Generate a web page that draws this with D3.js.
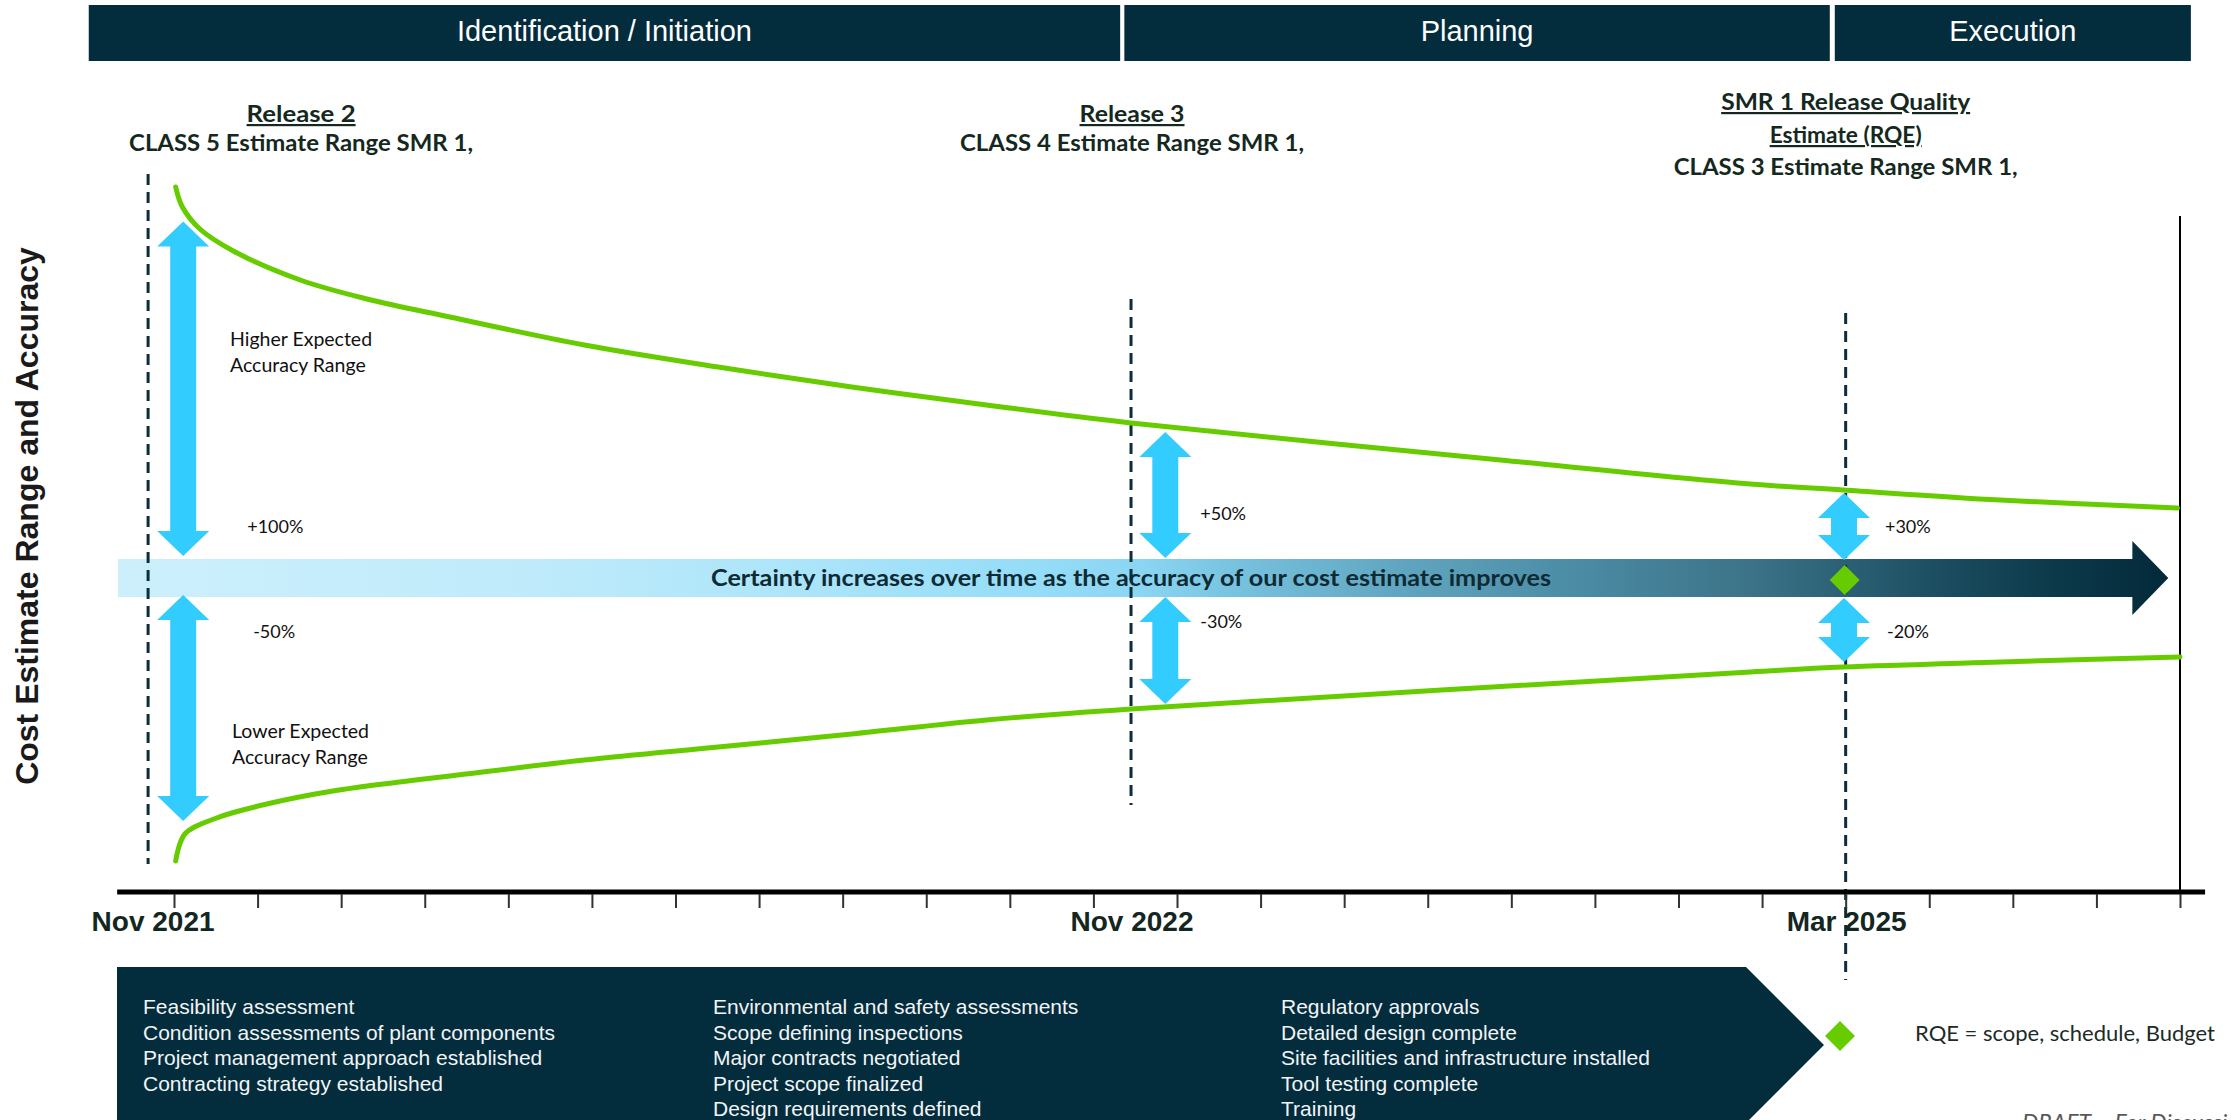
<!DOCTYPE html>
<html>
<head>
<meta charset="utf-8">
<script src="https://cdn.jsdelivr.net/npm/d3@7"></script>
<style>
  body { margin: 0; background: #fff; }
  svg { display: block; }
</style>
</head>
<body>
<svg id="chart"></svg>
<script>
// timeline is in month steps (tick index 0 = Nov 2021 ... 24 = end of axis)
const phaseNames = ['Identification / Initiation', 'Planning', 'Execution'];
const phaseStart = [-1.02, 11.37, 19.87];
const phaseEnd = [11.32, 19.81, 24.13];

const monthTicks = d3.range(0, 25);

const milestoneAt = [-0.31, 11.45, 20];
const milestoneTop = [101, 69.75, 66.25];
const milestoneBottom = [-71.5, -56.75, -100.5];
const dateLabels = ['Nov 2021', 'Nov 2022', 'Mar 2025'];
const releaseTitles = [['Release 2'], ['Release 3'], ['SMR 1 Release Quality', 'Estimate (RQE)']];
const classLabels = ['CLASS 5 Estimate Range SMR 1,', 'CLASS 4 Estimate Range SMR 1,', 'CLASS 3 Estimate Range SMR 1,'];

// accuracy envelope (relative units, 0 = point estimate)
const upperBound = [
  [0.02, 97.75], [0.10, 92.75], [0.31, 87.25], [0.71, 81.75], [1.51, 74.5], [2.31, 69.75],
  [3.30, 65.25], [4.91, 58.25], [6.51, 52.75], [8.11, 47.75], [9.72, 43.25], [11.45, 38.75],
  [15.87, 29.5], [18.86, 23.5], [19.97, 22], [21.85, 19.5], [23.97, 17.5]
];
const lowerBound = [
  [0.02, -70.75], [0.13, -64], [0.51, -60], [1.11, -56.5], [1.90, -53.25], [2.70, -51],
  [3.30, -49.5], [4.91, -45.5], [6.51, -42.25], [8.11, -39], [9.72, -35.5], [11.45, -32.75],
  [18.86, -23.5], [19.97, -22.25], [21.85, -21], [24, -19.75]
];

// blue range arrows
const arrowAt = [0.11, 11.86, 19.98];
const arrowUp = [[89.1, 5.5], [36.5, 5], [21.25, 4.5]];
const arrowDown = [[-4.25, -60.75], [-4.75, -31.5], [-5, -21]];
const pctUp = ['+100%', '+50%', '+30%'];
const pctDown = ['-50%', '-30%', '-20%'];

const footerCols = [
  ['Feasibility assessment', 'Condition assessments of plant components', 'Project management approach established', 'Contracting strategy established'],
  ['Environmental and safety assessments', 'Scope defining inspections', 'Major contracts negotiated', 'Project scope finalized', 'Design requirements defined'],
  ['Regulatory approvals', 'Detailed design complete', 'Site facilities and infrastructure installed', 'Tool testing complete', 'Training']
];

const width = 2231, height = 1120;
const navy = '#032c3d', lime = '#66cc00', sky = '#33ccff';
const calibri = 'Lato, "Open Sans", sans-serif';
const arial = '"Liberation Sans", Arial, sans-serif';

const svg = d3.select('#chart').attr('width', width).attr('height', height);

const x = d3.scaleLinear().domain([0, 24]).range([174, 2180]);
const y = d3.scaleLinear().domain([-79, 101]).range([894, 174]);

// phase header bars
const phases = phaseNames.map((n, i) => ({ name: n, s: phaseStart[i], e: phaseEnd[i] }));
svg.selectAll('rect.phase').data(phases).join('rect')
  .attr('class', 'phase')
  .attr('x', d => x(d.s)).attr('y', 5)
  .attr('width', d => x(d.e) - x(d.s)).attr('height', 56)
  .attr('fill', navy);
svg.selectAll('text.phase').data(phases).join('text')
  .attr('class', 'phase')
  .attr('x', d => (x(d.s) + x(d.e)) / 2).attr('y', 41)
  .attr('text-anchor', 'middle')
  .attr('font-family', arial).attr('font-size', 29)
  .attr('fill', '#fff')
  .text(d => d.name);

// y axis title
svg.append('text')
  .attr('transform', 'translate(38,516) rotate(-90)')
  .attr('text-anchor', 'middle')
  .attr('font-family', arial).attr('font-size', 32).attr('font-weight', 'bold')
  .attr('fill', '#1a1a1a')
  .text('Cost Estimate Range and Accuracy');

// gradient band arrow
const grad = svg.append('defs').append('linearGradient')
  .attr('id', 'band').attr('gradientUnits', 'userSpaceOnUse')
  .attr('x1', x(-0.67)).attr('x2', x(23.86)).attr('y1', 0).attr('y2', 0);
[[0, '#cdeffc'], [0.19, '#c0ebfb'], [0.33, '#ace5fa'], [0.455, '#93dcf7'], [0.5, '#8ad5f2'],
 [0.55, '#75c0dc'], [0.63, '#5fa4be'], [0.716, '#4a8aa3'], [0.796, '#3c7388'], [0.841, '#2c6175'],
 [0.894, '#1a4b5e'], [0.943, '#0c3a4b'], [1, '#03293a']]
  .forEach(([o, c]) => grad.append('stop').attr('offset', o).attr('stop-color', c));

const bx0 = x(-0.67), bx1 = x(23.43), btip = x(23.86);
svg.append('path')
  .attr('d', `M${bx0},${y(4.75)} L${bx1},${y(4.75)} L${bx1},${y(9.25)} L${btip},${y(0)} ` +
             `L${bx1},${y(-9.25)} L${bx1},${y(-4.75)} L${bx0},${y(-4.75)} Z`)
  .attr('fill', 'url(#band)');

// milestone dashed lines
svg.selectAll('line.ms').data(milestoneAt).join('line')
  .attr('class', 'ms')
  .attr('x1', d => x(d)).attr('x2', d => x(d))
  .attr('y1', (d, i) => y(milestoneTop[i])).attr('y2', (d, i) => y(milestoneBottom[i]))
  .attr('stroke', '#0d2d3a').attr('stroke-width', 3)
  .attr('stroke-dasharray', '11,7');

svg.append('text')
  .attr('x', x(11.45)).attr('y', 586)
  .attr('text-anchor', 'middle')
  .attr('font-family', calibri).attr('font-size', 22).attr('font-weight', 'bold')
  .attr('fill', '#0e2a33')
  .attr('textLength', 840).attr('lengthAdjust', 'spacingAndGlyphs')
  .text('Certainty increases  over time as the accuracy of our cost estimate improves');

// right end line
svg.append('line')
  .attr('x1', x(24)).attr('x2', x(24)).attr('y1', y(90.5)).attr('y2', y(-78.5))
  .attr('stroke', '#000').attr('stroke-width', 2);

// envelope curves
const line = d3.line().x(d => x(d[0])).y(d => y(d[1])).curve(d3.curveCatmullRom.alpha(0.5));
[upperBound, lowerBound].forEach(b => {
  svg.append('path').attr('d', line(b))
    .attr('fill', 'none').attr('stroke', lime).attr('stroke-width', 5)
    .attr('stroke-linecap', 'round');
});

// double arrows
function dblArrow(cx, t, b) {
  const hl = 25, hw = 26, sw = 13;
  return `M${cx},${t} L${cx + hw},${t + hl} L${cx + sw},${t + hl} L${cx + sw},${b - hl} L${cx + hw},${b - hl} ` +
         `L${cx},${b} L${cx - hw},${b - hl} L${cx - sw},${b - hl} L${cx - sw},${t + hl} L${cx - hw},${t + hl} Z`;
}
arrowAt.forEach((a, i) => {
  const cx = x(a);
  svg.append('path').attr('d', dblArrow(cx, y(arrowUp[i][0]), y(arrowUp[i][1]))).attr('fill', sky);
  svg.append('path').attr('d', dblArrow(cx, y(arrowDown[i][0]), y(arrowDown[i][1]))).attr('fill', sky);
});

// percentage labels
const pctPos = [
  { dx: 64, up: 533, ddx: 70, down: 638 },
  { dx: 35, up: 520, ddx: 35, down: 628 },
  { dx: 41, up: 533, ddx: 43, down: 638 }
];
arrowAt.forEach((a, i) => {
  const cx = x(a);
  svg.append('text').attr('x', cx + pctPos[i].dx).attr('y', pctPos[i].up)
    .attr('font-family', calibri).attr('font-size', 18).attr('fill', '#111')
    .text(pctUp[i]);
  svg.append('text').attr('x', cx + pctPos[i].ddx).attr('y', pctPos[i].down)
    .attr('font-family', calibri).attr('font-size', 18).attr('fill', '#111')
    .text(pctDown[i]);
});

// range descriptions
[['Higher Expected', 'Accuracy Range', 230, 346], ['Lower Expected', 'Accuracy Range', 232, 738]]
  .forEach(([l1, l2, tx, ty]) => {
    const t = svg.append('text').attr('font-family', calibri).attr('font-size', 19.5).attr('fill', '#111');
    t.append('tspan').attr('x', tx).attr('y', ty).text(l1);
    t.append('tspan').attr('x', tx).attr('y', ty + 26).text(l2);
  });

// RQE diamond on the band
const dmd = (cx, cy, r) => `M${cx},${cy - r} L${cx + r},${cy} L${cx},${cy + r} L${cx - r},${cy} Z`;
svg.append('path').attr('d', dmd(x(20) - 1, y(-0.5), 15)).attr('fill', lime);

// milestone annotations
const annoX = [x(milestoneAt[0]) + 153, x(milestoneAt[1]) + 1, x(milestoneAt[2])];
const titleLen = [[109], [105], [249, 152]];
const titleY = [[122], [122], [110, 143]];
const classY = [151, 151, 175];
releaseTitles.forEach((lines, i) => {
  lines.forEach((s, j) => {
    svg.append('text')
      .attr('x', annoX[i]).attr('y', titleY[i][j])
      .attr('text-anchor', 'middle')
      .attr('font-family', calibri).attr('font-size', 22).attr('font-weight', 'bold')
      .attr('fill', '#14281e')
      .attr('text-decoration', 'underline')
      .attr('textLength', titleLen[i][j]).attr('lengthAdjust', 'spacingAndGlyphs')
      .text(s);
  });
  svg.append('text')
    .attr('x', annoX[i]).attr('y', classY[i])
    .attr('text-anchor', 'middle')
    .attr('font-family', calibri).attr('font-size', 22).attr('font-weight', 'bold')
    .attr('fill', '#14281e')
    .attr('textLength', 344).attr('lengthAdjust', 'spacingAndGlyphs')
    .text(classLabels[i]);
});

// time axis
svg.append('line')
  .attr('x1', x(-0.68)).attr('x2', x(24.3)).attr('y1', 892).attr('y2', 892)
  .attr('stroke', '#000').attr('stroke-width', 5);
const axis = svg.append('g').attr('transform', 'translate(0,894)')
  .call(d3.axisBottom(x).tickValues(monthTicks).tickSize(14).tickFormat(''));
axis.select('.domain').remove();
axis.selectAll('.tick line').attr('stroke', '#333').attr('stroke-width', 2);

svg.selectAll('text.date').data(dateLabels).join('text')
  .attr('class', 'date')
  .attr('x', (d, i) => x(milestoneAt[i]) + (i === 0 ? 5 : 1)).attr('y', 931)
  .attr('text-anchor', 'middle')
  .attr('font-family', arial).attr('font-size', 28).attr('font-weight', 'bold')
  .attr('fill', '#13261f')
  .text(d => d);

// activities footer
svg.append('path')
  .attr('d', 'M117,967 L1746,967 L1824,1045 L1746,1123 L117,1123 Z')
  .attr('fill', navy);
const colX = [143, 713, 1281];
footerCols.forEach((col, i) => {
  svg.append('g').selectAll('text').data(col).join('text')
    .attr('x', colX[i]).attr('y', (d, j) => 1014 + j * 25.5)
    .attr('font-family', arial).attr('font-size', 21)
    .attr('fill', '#f2f4f5')
    .text(d => d);
});

// legend
svg.append('path').attr('d', dmd(1840, 1036, 15)).attr('fill', lime);
svg.append('text')
  .attr('x', 1915).attr('y', 1041)
  .attr('font-family', calibri).attr('font-size', 21).attr('fill', '#1c2b26')
  .attr('textLength', 300).attr('lengthAdjust', 'spacingAndGlyphs')
  .text('RQE = scope, schedule, Budget');
svg.append('text')
  .attr('x', 2022).attr('y', 1131)
  .attr('font-family', calibri).attr('font-size', 23).attr('font-style', 'italic')
  .attr('fill', '#595959')
  .text('DRAFT – For Discussion');
</script>
</body>
</html>
